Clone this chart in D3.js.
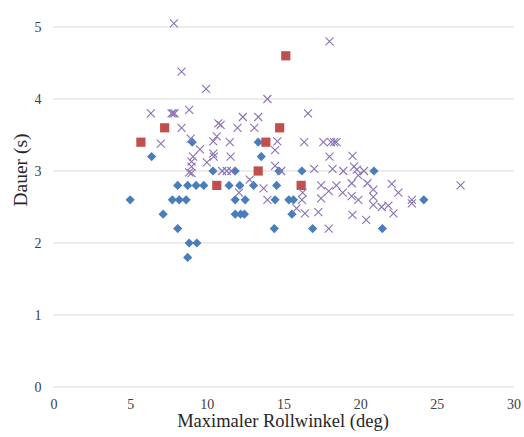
<!DOCTYPE html>
<html>
<head>
<meta charset="utf-8">
<script src="https://cdn.jsdelivr.net/npm/d3@7"></script>
<style>
  html, body { margin: 0; padding: 0; background: #fff; }
  svg { display: block; }
</style>
</head>
<body>
<svg id="chart" width="524" height="437"></svg>
<script>
// Maximaler Rollwinkel (deg) vs. Dauer (s), three groups of manoeuvres
const diamondSeries = [
  [5.0,2.6],[6.4,3.2],[7.15,2.4],[7.75,2.6],[8.2,2.6],[8.65,2.6],[8.1,2.8],[8.75,2.8],
  [9.3,2.8],[9.8,2.8],[8.1,2.2],[8.85,2.0],[9.35,2.0],[8.75,1.8],[9.05,3.4],[10.4,3.0],
  [11.45,2.8],[11.85,3.0],[11.85,2.6],[11.85,2.4],[12.15,2.8],[12.2,2.4],[12.45,2.4],
  [12.5,2.6],[13.05,2.8],[13.35,3.4],[13.55,3.2],[14.4,2.2],[14.45,2.6],[14.55,2.8],
  [14.7,3.0],[15.35,2.6],[15.65,2.6],[15.55,2.4],[16.2,3.0],[16.9,2.2],[20.9,3.0],
  [21.45,2.2],[24.15,2.6]
];
const squareSeries = [
  [5.7,3.4],[7.25,3.6],[10.65,2.8],[13.35,3.0],[13.85,3.4],[14.75,3.6],[15.15,4.6],[16.15,2.8]
];
const crossSeries = [
  [7.85,5.05],[8.35,4.38],[9.95,4.14],[18.0,4.8],[13.95,4.0],
  [6.35,3.8],[7.7,3.8],[7.8,3.8],[7.9,3.8],[8.85,3.85],[8.35,3.6],[7.0,3.38],[8.95,3.45],[9.55,3.3],
  [9.1,3.2],[9.0,3.13],[9.0,3.06],[8.85,2.98],[9.0,2.97],[10.0,3.12],
  [10.75,3.66],[10.9,3.64],[10.65,3.48],[10.42,3.41],[10.42,3.24],[10.45,3.2],
  [11.5,3.4],[11.55,3.2],[11.0,3.0],[11.3,3.0],[11.6,3.0],
  [12.0,3.6],[12.35,3.75],[13.1,3.6],[13.35,3.75],
  [12.1,2.7],[12.8,2.88],[13.7,2.76],[13.95,2.6],
  [14.45,3.29],[14.6,3.41],[14.45,3.07],[14.85,3.0],
  [15.85,2.48],[16.2,2.6],[16.25,2.7],[16.35,3.4],[16.4,2.41],[16.6,3.8],
  [17.0,3.03],[17.27,2.43],[17.45,2.62],[17.45,2.8],[17.6,3.4],[18.0,3.2],[18.1,3.4],[18.3,3.4],
  [18.45,3.4],[17.95,2.72],[17.95,2.2],[18.2,3.03],[18.45,2.8],[18.9,3.0],[18.86,2.7],
  [19.5,3.21],[19.45,2.83],[19.5,2.39],[19.6,3.06],[19.78,3.02],[19.88,2.94],[19.45,2.65],
  [19.88,2.6],[20.25,3.0],[20.39,2.32],[20.47,2.83],[20.86,2.74],[20.86,2.64],[20.86,2.53],
  [21.4,2.5],[21.84,2.52],[22.06,2.82],[22.17,2.41],[22.49,2.7],[23.37,2.6],[23.37,2.55],[26.55,2.8]
];
const xTicks = [0, 5, 10, 15, 20, 25, 30];
const yTicks = [0, 1, 2, 3, 4, 5];
const xTitle = "Maximaler Rollwinkel (deg)";
const yTitle = "Dauer (s)";

const svg = d3.select("#chart");
const serif = "Liberation Serif";

const x = d3.scaleLinear().domain([0, 30]).range([53.5, 513.5]);
const y = d3.scaleLinear().domain([0, 5]).range([387, 27]);

// horizontal gridlines
svg.append("g")
  .selectAll("line")
  .data(yTicks)
  .join("line")
  .attr("x1", x(0)).attr("x2", x(30))
  .attr("y1", d => y(d)).attr("y2", d => y(d))
  .attr("stroke", "#d9d9d9").attr("stroke-width", 1);

// y axis labels
const yAxis = svg.append("g")
  .attr("transform", `translate(${x(0)},0)`)
  .call(d3.axisLeft(y).tickValues(yTicks).tickSize(0).tickPadding(12).tickFormat(d3.format("d")));
yAxis.select(".domain").remove();
yAxis.selectAll("text")
  .style("font-family", serif).style("font-size", "14px")
  .attr("fill", "#404040").attr("dy", "0.34em");

// x axis labels
const xAxis = svg.append("g")
  .attr("transform", `translate(0,${y(0)})`)
  .call(d3.axisBottom(x).tickValues(xTicks).tickSize(0).tickPadding(12).tickFormat(d3.format("d")));
xAxis.select(".domain").remove();
xAxis.selectAll("text")
  .style("font-family", serif).style("font-size", "14px")
  .attr("fill", "#404040");

// axis titles
svg.append("text")
  .attr("x", 283).attr("y", 427)
  .attr("text-anchor", "middle")
  .style("font-family", serif).style("font-size", "18.5px").attr("fill", "#262626")
  .text(xTitle);

svg.append("text")
  .attr("transform", `translate(27,170) rotate(-90)`)
  .attr("text-anchor", "middle")
  .style("font-family", serif).style("font-size", "19.5px").attr("fill", "#262626")
  .text(yTitle);

// diamonds
const dSize = 4.6;
svg.append("g")
  .selectAll("path")
  .data(diamondSeries)
  .join("path")
  .attr("transform", d => `translate(${x(d[0])},${y(d[1])})`)
  .attr("d", `M0,${-dSize}L${dSize},0L0,${dSize}L${-dSize},0Z`)
  .attr("fill", "#4a7ebb");

// squares
const sHalf = 4.6;
svg.append("g")
  .selectAll("rect")
  .data(squareSeries)
  .join("rect")
  .attr("x", d => x(d[0]) - sHalf).attr("y", d => y(d[1]) - sHalf)
  .attr("width", sHalf * 2).attr("height", sHalf * 2)
  .attr("fill", "#c0504d");

// crosses
const cHalf = 4.0;
svg.append("g")
  .selectAll("path")
  .data(crossSeries)
  .join("path")
  .attr("transform", d => `translate(${x(d[0])},${y(d[1])})`)
  .attr("d", `M${-cHalf},${-cHalf}L${cHalf},${cHalf}M${-cHalf},${cHalf}L${cHalf},${-cHalf}`)
  .attr("fill", "none")
  .attr("stroke", "#8a72b4").attr("stroke-width", 1.1);
</script>
</body>
</html>
